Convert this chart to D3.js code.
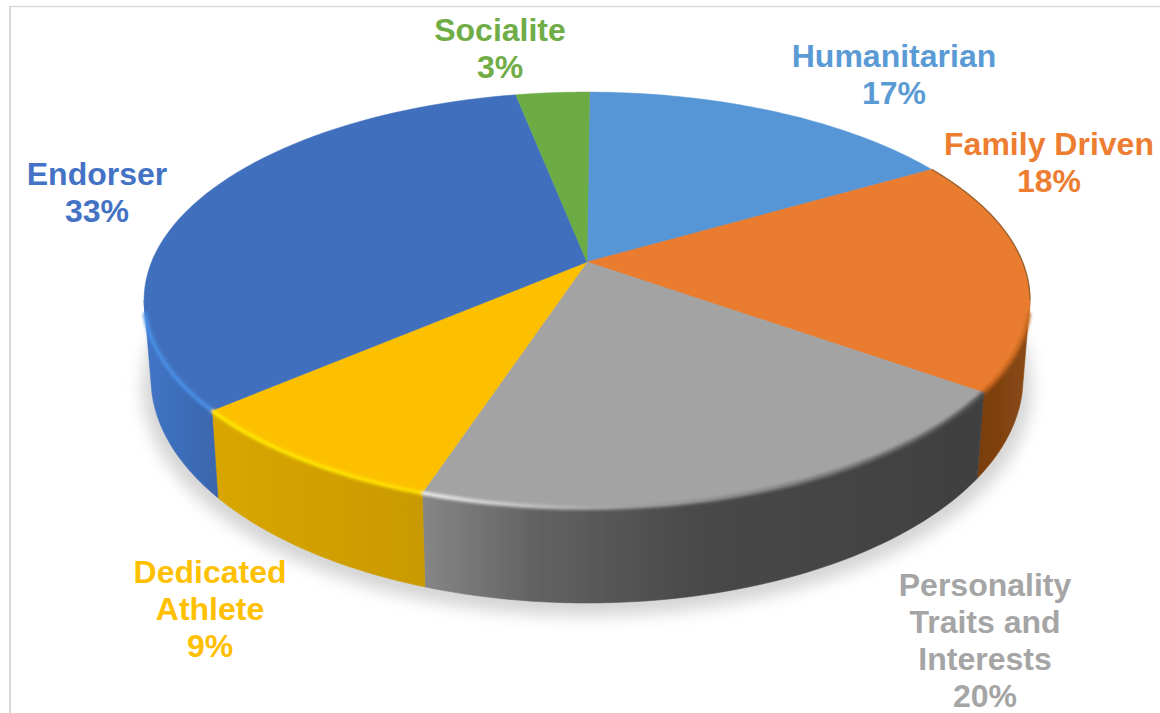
<!DOCTYPE html>
<html><head><meta charset="utf-8">
<script src="https://cdn.jsdelivr.net/npm/d3@7/dist/d3.min.js"></script>
<style>html,body{margin:0;padding:0;background:#fff;overflow:hidden}svg{display:block}</style>
</head><body><svg id="c" width="1160" height="713"></svg>
<script>
const categories = ["Humanitarian","Family Driven","Personality Traits and Interests","Dedicated Athlete","Endorser","Socialite"];
const values = [16.5,18.25,20.2,8.65,33.2,3.2];
const labelLines = [["Humanitarian","17%"],["Family Driven","18%"],["Personality","Traits and","Interests","20%"],["Dedicated","Athlete","9%"],["Endorser","33%"],["Socialite","3%"]];
const labelColors = ["#5B9BD5","#ED7D31","#A5A5A5","#FFC000","#4472C4","#70AD47"];
const faceColors = ["#5796D6","#E97B2F","#A3A3A3","#FDC000","#4070BD","#6DAB45"];
const labelAnchors = [[894,67],[1049,155],[985,596],[210,583],[97,185],[500,41]];
const wallStops = [null,[[0,"#7a3e0e"],[1,"#8a4a15"]],[[0,"#858585"],[.2,"#626262"],[.5,"#484848"],[1,"#404040"]],[[0,"#d9a600"],[1,"#c99a00"]],[[0,"#4075c6"],[1,"#3a66ad"]],null];
const wallRange = [null,[982,1030],[425,982],[213,425],[143,217],null];
const rimStops = [null,[[0,"#b85c18"],[1,"#c96a20"]],[[0,"#eeeeee"],[.3,"#a8a8a8"],[.75,"#707070"],[1,"#555555"]],[[0,"#ffe800"],[1,"#ffe000"]],[[0,"#4a8fe6"],[1,"#4a8fe6"]],null];

const svg = d3.select("#c");
const defs = svg.append("defs");
const blur = (id,s)=>defs.append("filter").attr("id",id).attr("x","-10%").attr("y","-10%").attr("width","120%").attr("height","120%").append("feGaussianBlur").attr("stdDeviation",s);
blur("soft",0.7); blur("rimBlur",1.7); blur("shadow",8);

const cx=587, apexY=262, K=0.1827, A=201, B=435.5;
const botCy=378, botRx=436, botRy=225, botScale=0.984;
const rad=d3.scaleLinear().domain([0,360]).range([0,2*Math.PI]);
const project=t=>{const u=Math.sin(t),v=-Math.cos(t),d=1-K*v;return [cx+B*u/d,apexY+A*v/d];};
const projectBottom=t=>{const p=project(t),x=cx+(p[0]-cx)*botScale,r=Math.max(0,1-((x-cx)/botRx)**2);return [x,botCy+botRy*Math.sqrt(r)];};
const thetaR=Math.acos(-K), thetaL=2*Math.PI-thetaR;
const samples=(a,b)=>d3.range(0,61).map(i=>a+(b-a)*i/60);
const line=d3.line();

const arcs=d3.pie().sort(null).startAngle(rad(0.4)).endAngle(rad(360.4))(values);

// shadow
svg.append("path").attr("d",line(samples(0,2*Math.PI).map(t=>[cx+445*Math.sin(t),botCy+9-229*Math.cos(t)]))+"Z")
  .attr("fill","#b8b8b8").attr("opacity",.6).attr("filter","url(#shadow)");

const g=svg.append("g").attr("filter","url(#soft)");
const mkGrad=(id,range,stops)=>{const gr=defs.append("linearGradient").attr("id",id).attr("gradientUnits","userSpaceOnUse").attr("x1",range[0]).attr("x2",range[1]).attr("y1",0).attr("y2",0);
  stops.forEach(s=>gr.append("stop").attr("offset",s[0]).attr("stop-color",s[1]));};

// side walls
arcs.forEach((d,i)=>{
  if(!wallStops[i])return;
  const a=Math.max(d.startAngle,thetaR), b=Math.min(d.endAngle,thetaL);
  if(b<=a)return;
  mkGrad("wall"+i,wallRange[i],wallStops[i]);
  const ts=samples(a,b);
  g.append("path").attr("d",line(ts.map(project).concat(ts.slice().reverse().map(projectBottom)))+"Z")
    .attr("fill",`url(#wall${i})`).attr("stroke",`url(#wall${i})`).attr("stroke-width",.6);
});
// top face
arcs.forEach((d,i)=>{
  g.append("path").attr("d",line([[cx,apexY]].concat(samples(d.startAngle,d.endAngle).map(project)))+"Z")
    .attr("fill",faceColors[i]).attr("stroke",faceColors[i]).attr("stroke-width",.5);
});
// bevel along the visible rim
const rims=svg.append("g").attr("filter","url(#rimBlur)");
arcs.forEach((d,i)=>{
  if(!rimStops[i])return;
  const a=Math.max(d.startAngle,thetaR+.06), b=Math.min(d.endAngle,thetaL-.06);
  if(b<=a)return;
  mkGrad("rim"+i,wallRange[i],rimStops[i]);
  rims.append("path").attr("d",line(samples(a,b).map(project))).attr("fill","none")
    .attr("stroke",`url(#rim${i})`).attr("stroke-width",4);
});
// thin dark back edge of the orange slice
svg.append("path").attr("d",line(samples(arcs[1].startAngle,thetaR).map(project))).attr("fill","none")
  .attr("stroke","#8a5526").attr("stroke-width",1.4).attr("opacity",.8);

// labels
const lab=svg.append("g").attr("font-family","'Liberation Sans',Arial,sans-serif").attr("font-weight",700).attr("font-size",32).attr("text-anchor","middle");
labelLines.forEach((ls,i)=>{
  const t=lab.append("text").attr("fill",labelColors[i]);
  ls.forEach((s,j)=>t.append("tspan").attr("x",labelAnchors[i][0]).attr("y",labelAnchors[i][1]+j*37).text(s));
});
// frame
svg.append("path").attr("d",line([[10,713],[10,6.5]])).attr("fill","none").attr("stroke","#d9d9d9").attr("stroke-width",2);
svg.append("path").attr("d",line([[9,6.5],[1160,6.5]])).attr("fill","none").attr("stroke","#d9d9d9").attr("stroke-width",1.5);
</script></body></html>
